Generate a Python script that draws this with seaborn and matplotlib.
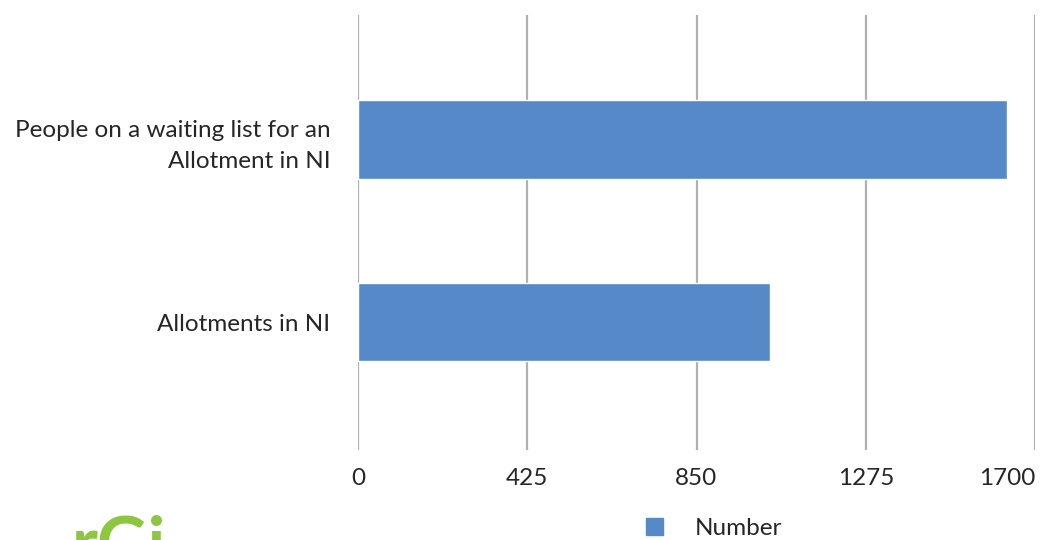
import matplotlib
matplotlib.use("Agg")
import matplotlib.pyplot as plt
import seaborn as sns
import pandas as pd
from matplotlib.patches import Patch

categories = ["People on a waiting list for an\nAllotment in NI", "Allotments in NI"]
values = [1630, 1034]
xticks = [0, 425, 850, 1275, 1700]
series_name = "Number"

sns.set_theme(style="white")
plt.rcParams['font.family'] = ['Lato', 'DejaVu Sans']

df = pd.DataFrame({"category": categories, "value": values})

fig = plt.figure(figsize=(10.43, 5.40), dpi=100)
ax = fig.add_axes([358/1043, 1-450/540, (1035-358)/1043, (450-15)/540])

sns.barplot(data=df, x="value", y="category", orient="h", color="#5589c8",
            saturation=1, width=0.43, ax=ax, zorder=3)

ax.set_xlim(0, 1700)
ax.set_ylim(1.70, -0.68)
ax.set_xticks(xticks)
ax.set_xticklabels([str(t) for t in xticks])
ax.xaxis.grid(True, color="#b0b0b2", linewidth=1.6, zorder=0)
ax.set_axisbelow(True)
for s in ax.spines.values():
    s.set_visible(False)
ax.tick_params(axis="x", length=0, pad=13, labelsize=17.5, labelcolor="#262626")
ax.tick_params(axis="y", length=0, pad=20, labelsize=17.5, labelcolor="#262626")
for lab in ax.get_yticklabels():
    lab.set_horizontalalignment("right")
    lab.set_multialignment("right")
    lab.set_linespacing(1.55)
ax.get_xticklabels()[-1].set_horizontalalignment("right")
ax.set_xlabel("")
ax.set_ylabel("")

fig.legend(handles=[Patch(color="#5589c8", label=series_name)],
           loc="upper left", bbox_to_anchor=(636/1043, 1-508/540),
           frameon=False, fontsize=17.5, handlelength=0.7, handleheight=0.7,
           handletextpad=1.3, labelcolor="#262626", borderaxespad=0)

fig.text(72/1043, 1-565/540, "rGi", color="#8dc63f", fontsize=50,
         fontweight="bold", ha="left", va="baseline")

fig.savefig("out.png", dpi=100)
